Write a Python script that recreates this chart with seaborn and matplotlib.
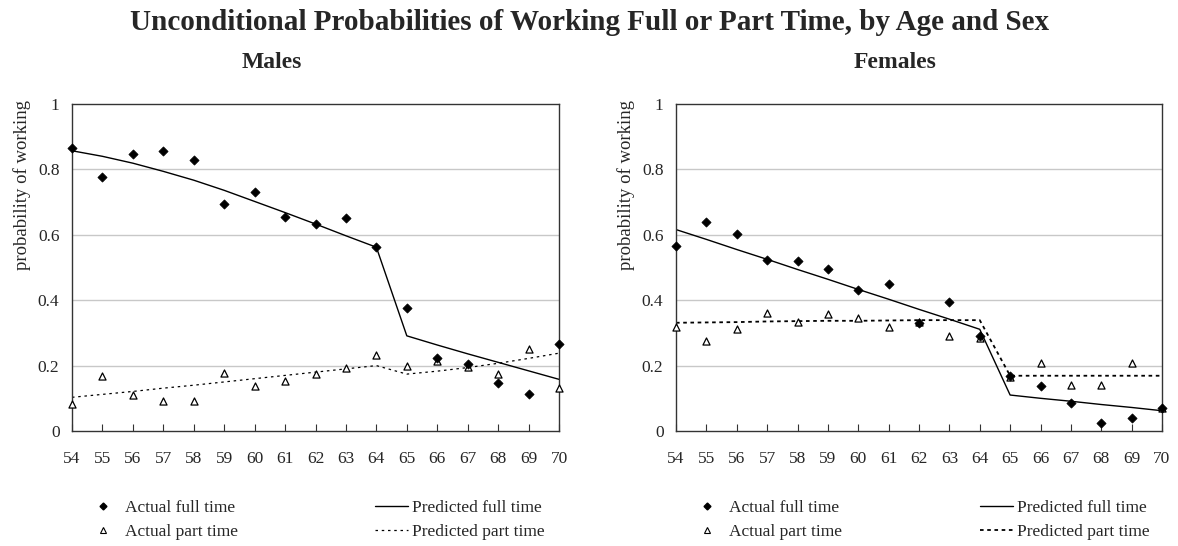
import numpy as np
import pandas as pd
import matplotlib
matplotlib.use("Agg")
import matplotlib.pyplot as plt
from matplotlib.lines import Line2D
import seaborn as sns

# ---------------- data ----------------
ages = list(range(54, 71))

m_full_act = [0.866, 0.776, 0.848, 0.856, 0.829, 0.695, 0.732, 0.654, 0.633, 0.651,
              0.562, 0.375, 0.222, 0.204, 0.148, 0.113, 0.265]
m_part_act = [0.084, 0.167, 0.109, 0.093, 0.093, 0.178, 0.137, 0.154, 0.173, 0.193,
              0.233, 0.200, 0.215, 0.195, 0.174, 0.251, 0.131]
m_full_pred = [0.857, 0.840, 0.819, 0.794, 0.767, 0.736, 0.702, 0.668, 0.633, 0.597,
               0.562, 0.291, 0.263, 0.236, 0.210, 0.184, 0.158]
m_part_pred = [0.103, 0.112, 0.121, 0.131, 0.140, 0.150, 0.160, 0.170, 0.180, 0.190,
               0.200, 0.174, 0.183, 0.194, 0.207, 0.222, 0.238]

f_full_act = [0.565, 0.639, 0.602, 0.522, 0.521, 0.496, 0.430, 0.450, 0.330, 0.393,
              0.290, 0.168, 0.137, 0.085, 0.023, 0.039, 0.069]
f_part_act = [0.319, 0.274, 0.312, 0.362, 0.334, 0.359, 0.347, 0.319, 0.332, 0.290,
              0.283, 0.165, 0.209, 0.140, 0.140, 0.209, 0.071]
f_full_pred = [0.616, 0.586, 0.555, 0.525, 0.494, 0.464, 0.433, 0.403, 0.372, 0.342,
               0.311, 0.110, 0.100, 0.091, 0.081, 0.072, 0.062]
f_part_pred = [0.331, 0.332, 0.333, 0.335, 0.336, 0.337, 0.337, 0.338, 0.339, 0.339,
               0.339, 0.169, 0.169, 0.169, 0.169, 0.169, 0.169]

y_ticks = [0, 0.2, 0.4, 0.6, 0.8, 1]
y_tick_labels = ["0", "0.2", "0.4", "0.6", "0.8", "1"]

title = "Unconditional Probabilities of Working Full or Part Time, by Age and Sex"
panel_titles = ["Males", "Females"]
ylabel = "probability of working"
legend_labels = ["Actual full time", "Actual part time",
                 "Predicted full time", "Predicted part time"]

# ---------------- style ----------------
sns.set_theme(style="white")
plt.rcParams["font.family"] = ["Liberation Serif", "DejaVu Serif"]
plt.rcParams["axes.unicode_minus"] = False

W, H = 1178, 546
fig = plt.figure(figsize=(W / 100, H / 100), dpi=100)


def fx(px):
    return px / W


def fy(py):
    return 1 - py / H


axes_px = [(72, 559), (676, 1162)]
top_px, bot_px = 104, 431

datasets = [
    (m_full_act, m_part_act, m_full_pred, m_part_pred, (0, (2.0, 3.0)), 0.9),
    (f_full_act, f_part_act, f_full_pred, f_part_pred, (0, (2.0, 2.0)), 1.3),
]

fs = 12.5
fs_px = fs * 100 / 72
legend_pos = [
    dict(mk_center=103, ln_left=375, ln_len=33),
    dict(mk_center=707, ln_left=980, ln_len=33),
]

for i, ((l, r), (fa, pa, fp, pp, dash, dlw)) in enumerate(zip(axes_px, datasets)):
    ax = fig.add_axes([fx(l), fy(bot_px), fx(r - l), (bot_px - top_px) / H])
    df = pd.DataFrame({"age": ages, "fa": fa, "pa": pa, "fp": fp, "pp": pp})

    for yv in [0.2, 0.4, 0.6, 0.8]:
        ax.axhline(yv, color="#c8c8c8", lw=1.0, zorder=0)

    sns.lineplot(data=df, x="age", y="fp", ax=ax, color="black", lw=1.0,
                 zorder=2, legend=False)
    sns.lineplot(data=df, x="age", y="pp", ax=ax, color="black", lw=dlw,
                 linestyle=dash, zorder=2, legend=False)
    sns.scatterplot(data=df, x="age", y="fa", ax=ax, marker="D", s=22,
                    color="black", edgecolor="black", linewidth=0.5,
                    zorder=4, clip_on=False, legend=False)
    sns.scatterplot(data=df, x="age", y="pa", ax=ax, marker="^", s=26,
                    facecolor="white", edgecolor="black", linewidth=0.9,
                    zorder=3, clip_on=False, legend=False)

    ax.set_xlim(54, 70)
    ax.set_ylim(0, 1)
    ax.set_xticks(ages)
    ax.set_xticklabels([str(a) for a in ages], fontsize=fs)
    ax.set_yticks(y_ticks)
    ax.set_yticklabels(y_tick_labels, fontsize=fs)
    ax.tick_params(axis="x", direction="in", length=5, width=0.8,
                   color="#333333", pad=14.5, bottom=True)
    ax.tick_params(axis="y", length=0, pad=9)
    ax.set_xlabel("")
    ax.set_ylabel(ylabel, fontsize=13.5)
    ax.yaxis.set_label_coords(-0.084, 0.752)
    for sp in ax.spines.values():
        sp.set_color("#333333")
        sp.set_linewidth(1.0)
        sp.set_visible(True)

    # legends
    mk_handles = [
        Line2D([], [], ls="none", marker="D", ms=3.5, color="black"),
        Line2D([], [], ls="none", marker="^", ms=4, mfc="white", mec="black", mew=0.8),
    ]
    ln_handles = [
        Line2D([], [], color="black", lw=1.0),
        Line2D([], [], color="black", lw=dlw, ls=dash),
    ]
    lp = legend_pos[i]
    mk_left = lp["mk_center"] - fs_px / 2
    fig.legend(mk_handles, legend_labels[:2], loc="center left",
               bbox_to_anchor=(fx(mk_left), fy(520)),
               frameon=False, fontsize=fs, handlelength=1.0,
               handletextpad=(lp["mk_center"] + 22 - mk_left - fs_px) / fs_px,
               labelspacing=0.45, borderpad=0, borderaxespad=0)
    fig.legend(ln_handles, legend_labels[2:], loc="center left",
               bbox_to_anchor=(fx(lp["ln_left"]), fy(520)),
               frameon=False, fontsize=fs, handlelength=lp["ln_len"] / fs_px,
               handletextpad=0.25, labelspacing=0.45, borderpad=0,
               borderaxespad=0)

fig.text(0.5, fy(23), title, ha="center", va="center", fontsize=21,
         fontweight="bold")
fig.text(fx(272), fy(62), panel_titles[0], ha="center", va="center",
         fontsize=17, fontweight="bold")
fig.text(fx(895), fy(62), panel_titles[1], ha="center", va="center",
         fontsize=17, fontweight="bold")

fig.savefig("out.png", dpi=100)
